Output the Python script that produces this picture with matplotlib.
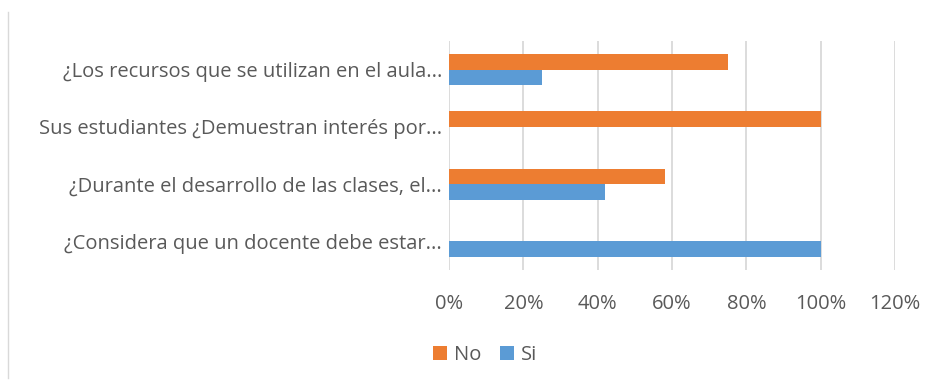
import matplotlib.pyplot as plt
from matplotlib.lines import Line2D
from matplotlib.ticker import FuncFormatter

# Survey questions, listed bottom to top as they appear on the axis
preguntas = [
    "¿Considera que un docente debe estar...",
    "¿Durante el desarrollo de las clases, el...",
    "Sus estudiantes ¿Demuestran interés por...",
    "¿Los recursos que se utilizan en el aula...",
]
si = [1.00, 0.42, 0.00, 0.25]
no = [0.00, 0.58, 1.00, 0.75]

plt.rcParams['font.family'] = ['Open Sans', 'DejaVu Sans']
gris = "#595959"

fig = plt.figure(figsize=(9.39, 3.85), dpi=100)
ax = fig.add_axes([449 / 939, 1 - 270 / 385, 446 / 939, 229 / 385])

h = 0.27
y = list(range(len(preguntas)))
ax.barh([v - h / 2 for v in y], si, height=h, color="#5B9BD5", label="Si", zorder=3)
ax.barh([v + h / 2 for v in y], no, height=h, color="#ED7D31", label="No", zorder=3)

ax.set_xlim(0, 1.2)
ax.set_ylim(-0.5, len(preguntas) - 0.5)
ax.set_xticks([0, 0.2, 0.4, 0.6, 0.8, 1.0, 1.2])
ax.xaxis.set_major_formatter(FuncFormatter(lambda v, p: f"{v * 100:.0f}%"))
ax.set_yticks(y)
ax.set_yticklabels(preguntas)

ax.grid(axis="x", color="#d9d9d9", linewidth=1.3, zorder=0)
for s in ax.spines.values():
    s.set_visible(False)
ax.tick_params(axis="x", length=0, pad=17, labelsize=14.5, labelcolor=gris)
ax.tick_params(axis="y", length=0, pad=5, labelsize=14.5, labelcolor=gris)

# Legend order: No first, then Si
handles, labels = ax.get_legend_handles_labels()
fig.legend(handles[::-1], labels[::-1], loc="center", bbox_to_anchor=(485 / 939, 1 - 355 / 385),
           ncol=2, frameon=False, fontsize=14.5, labelcolor=gris, handlelength=0.7,
           handleheight=0.7, handletextpad=0.35, columnspacing=0.9)

# Chart area border on the left
fig.add_artist(Line2D([8 / 939, 8 / 939], [1 - 12 / 385, 1 - 378 / 385], color="#d9d9d9", linewidth=1.0))

fig.savefig("out.png", dpi=100)
